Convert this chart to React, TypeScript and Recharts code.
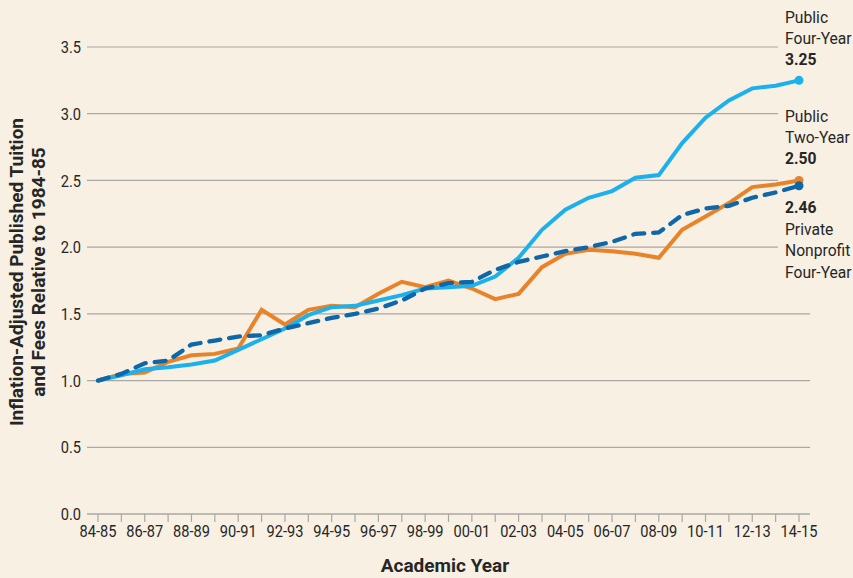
import { LineChart, Line, XAxis, YAxis, CartesianGrid } from 'recharts'

const years = [
  '84-85', '85-86', '86-87', '87-88', '88-89', '89-90', '90-91', '91-92', '92-93', '93-94',
  '94-95', '95-96', '96-97', '97-98', '98-99', '99-00', '00-01', '01-02', '02-03', '03-04',
  '04-05', '05-06', '06-07', '07-08', '08-09', '09-10', '10-11', '11-12', '12-13', '13-14', '14-15',
]

const publicFourYear = [
  1.0, 1.04, 1.085, 1.1, 1.12, 1.15, 1.23, 1.31, 1.39, 1.49, 1.55, 1.56, 1.6, 1.64, 1.69, 1.7,
  1.71, 1.78, 1.92, 2.13, 2.28, 2.37, 2.42, 2.52, 2.54, 2.78, 2.97, 3.1, 3.19, 3.21, 3.25,
]

const publicTwoYear = [
  1.0, 1.05, 1.06, 1.14, 1.19, 1.2, 1.24, 1.53, 1.42, 1.53, 1.56, 1.55, 1.65, 1.74, 1.7, 1.75,
  1.69, 1.61, 1.65, 1.85, 1.95, 1.98, 1.97, 1.95, 1.92, 2.13, 2.23, 2.33, 2.45, 2.47, 2.5,
]

const privateNonprofit = [
  1.0, 1.05, 1.13, 1.15, 1.27, 1.3, 1.33, 1.34, 1.39, 1.43, 1.47, 1.5, 1.54, 1.6, 1.69, 1.73,
  1.74, 1.83, 1.89, 1.93, 1.97, 2.0, 2.04, 2.1, 2.11, 2.24, 2.29, 2.31, 2.37, 2.41, 2.46,
]

const yTicks = [0, 0.5, 1, 1.5, 2, 2.5, 3, 3.5]

const data = years.map((year, i) => ({
  year,
  publicFour: publicFourYear[i],
  publicTwo: publicTwoYear[i],
  private: privateNonprofit[i],
}))

const FONT = 'Roboto, "Liberation Sans", sans-serif'
const TEXT = '#262626'
const GRID = '#aaa8a4'
const LIGHT_BLUE = '#1cb1ec'
const ORANGE = '#e8832a'
const DARK_BLUE = '#0f67a8'
const SQUEEZE = 0.86
const last = years.length - 1

function EndDot(color: string) {
  return (props: any) => {
    if (props.index !== last) return <g key={props.index} />
    return <circle key={props.index} cx={props.cx} cy={props.cy} r={4.5} fill={color} />
  }
}

function GridLine(props: any) {
  // upper gridlines stop short of the series labels on the right
  const x2 = props.y1 < 260 ? 778 : props.x2
  return <line x1={props.x1} x2={x2} y1={props.y1} y2={props.y2} stroke={GRID} strokeWidth={1.2} />
}

function XTick(props: any) {
  const { x, y, payload, index } = props
  if (index % 2 !== 0) return <g />
  return (
    <text
      transform={`translate(${x},${y + 13}) scale(${SQUEEZE},1)`}
      textAnchor="middle"
      fill={TEXT}
      fontSize={17}
      fontFamily={FONT}
    >
      {payload.value}
    </text>
  )
}

function YTick(props: any) {
  const { x, y, payload } = props
  return (
    <text
      transform={`translate(${x},${y}) scale(${SQUEEZE},1)`}
      textAnchor="end"
      dy="0.36em"
      fill={TEXT}
      fontSize={17}
      fontFamily={FONT}
    >
      {payload.value.toFixed(1)}
    </text>
  )
}

const labelStyle: React.CSSProperties = {
  position: 'absolute',
  left: 785,
  fontFamily: FONT,
  fontSize: 17,
  color: TEXT,
  whiteSpace: 'nowrap',
  transform: 'scaleX(0.92)',
  transformOrigin: 'left top',
}

export default function App() {
  return (
    <div
      style={{
        position: 'absolute',
        left: 0,
        top: 0,
        width: 853,
        height: 578,
        background: '#f7f0e3',
        overflow: 'hidden',
      }}
    >
      <LineChart width={853} height={578} data={data} margin={{ top: 47, right: 43, bottom: 34, left: 0 }}>
        <CartesianGrid vertical={false} horizontal={GridLine} />
        <XAxis
          dataKey="year"
          interval={0}
          height={30}
          padding={{ left: 11, right: 11 }}
          tickSize={8}
          tickLine={{ stroke: GRID, strokeWidth: 1.2 }}
          axisLine={{ stroke: GRID, strokeWidth: 1.2 }}
          tick={XTick}
        />
        <YAxis
          width={87}
          domain={[0, 3.5]}
          ticks={yTicks}
          axisLine={false}
          tickLine={false}
          tickMargin={0}
          tick={YTick}
        />
        <Line
          dataKey="publicTwo"
          stroke={ORANGE}
          strokeWidth={4}
          dot={EndDot(ORANGE)}
          activeDot={false}
          isAnimationActive={false}
        />
        <Line
          dataKey="publicFour"
          stroke={LIGHT_BLUE}
          strokeWidth={4}
          dot={EndDot(LIGHT_BLUE)}
          activeDot={false}
          isAnimationActive={false}
        />
        <Line
          dataKey="private"
          stroke={DARK_BLUE}
          strokeWidth={4.3}
          strokeDasharray="11 9"
          strokeLinecap="round"
          dot={EndDot(DARK_BLUE)}
          activeDot={false}
          isAnimationActive={false}
        />
      </LineChart>

      <div style={{ ...labelStyle, top: 7, lineHeight: '21px' }}>
        Public
        <br />
        Four-Year
        <br />
        <b>3.25</b>
      </div>
      <div style={{ ...labelStyle, top: 106, lineHeight: '21px' }}>
        Public
        <br />
        Two-Year
        <br />
        <b>2.50</b>
      </div>
      <div style={{ ...labelStyle, top: 197, lineHeight: '21.7px' }}>
        <b>2.46</b>
        <br />
        Private
        <br />
        Nonprofit
        <br />
        Four-Year
      </div>

      <div
        style={{
          position: 'absolute',
          left: 28,
          top: 272,
          transform: 'translate(-50%, -50%) rotate(-90deg)',
          fontFamily: FONT,
          fontWeight: 'bold',
          fontSize: 19,
          lineHeight: '22px',
          color: TEXT,
          textAlign: 'center',
          whiteSpace: 'nowrap',
        }}
      >
        Inflation-Adjusted Published Tuition
        <br />
        and Fees Relative to 1984-85
      </div>

      <div
        style={{
          position: 'absolute',
          left: 445,
          top: 556,
          transform: 'translateX(-50%)',
          fontFamily: FONT,
          fontWeight: 'bold',
          fontSize: 19,
          lineHeight: '20px',
          color: TEXT,
          whiteSpace: 'nowrap',
        }}
      >
        Academic Year
      </div>
    </div>
  )
}
